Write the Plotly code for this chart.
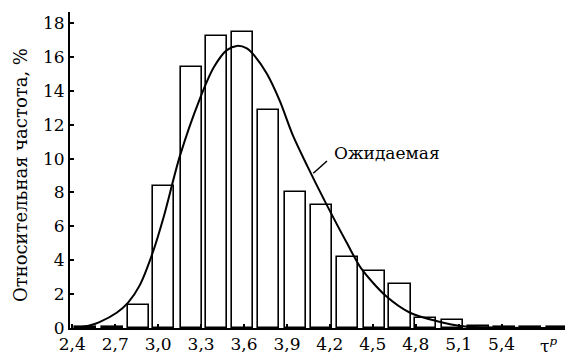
import plotly.graph_objects as go

# Histogram of the relative frequency (%) and the expected density curve
bin_centers = [2.49, 2.68, 2.86, 3.04, 3.23, 3.41, 3.59, 3.77, 3.96, 4.14,
               4.32, 4.51, 4.69, 4.87, 5.06, 5.24, 5.42, 5.60, 5.79]
frequency = [0.06, 0.06, 1.35, 8.4, 15.4, 17.25, 17.45, 12.85, 8.05, 7.25,
             4.2, 3.35, 2.6, 0.6, 0.47, 0.12, 0.05, 0.04, 0.04]

curve_x = [2.42, 2.52, 2.59, 2.71, 2.79, 2.87, 2.96, 3.04, 3.15, 3.29,
           3.39, 3.48, 3.55, 3.62, 3.67, 3.76, 3.85, 3.94, 4.04, 4.17,
           4.32, 4.42, 4.59, 4.76, 4.95, 5.13, 5.39, 5.84]
curve_y = [0.0, 0.15, 0.35, 0.9, 1.5, 2.5, 4.4, 6.6, 10.1, 13.5,
           15.4, 16.4, 16.65, 16.5, 16.1, 15.0, 13.4, 11.4, 9.6, 7.4,
           5.0, 3.5, 1.9, 0.9, 0.4, 0.1, 0.02, 0.0]

x_ticks = [2.4, 2.7, 3.0, 3.3, 3.6, 3.9, 4.2, 4.5, 4.8, 5.1, 5.4]
x_tick_text = ["2,4", "2,7", "3,0", "3,3", "3,6", "3,9", "4,2", "4,5", "4,8", "5,1", "5,4"]
y_ticks = [0, 2, 4, 6, 8, 10, 12, 14, 16, 18]

FONT = "DejaVu Serif"
SIZE = 17

fig = go.Figure()
fig.add_trace(go.Bar(
    x=bin_centers, y=frequency, width=0.147,
    marker=dict(color="white", line=dict(color="black", width=1.6)),
    showlegend=False, hoverinfo="skip",
))
fig.add_trace(go.Scatter(
    x=curve_x, y=curve_y, mode="lines",
    line=dict(color="black", width=2, shape="spline", smoothing=0.8),
    showlegend=False, hoverinfo="skip",
))

# curve label with its leader line
fig.add_annotation(x=4.213, y=10.31, text="Ожидаемая", showarrow=False,
                   xanchor="left", yanchor="middle",
                   font=dict(family=FONT, size=SIZE, color="black"))
fig.add_shape(type="line", x0=4.084, y0=9.13, x1=4.18, y1=9.86,
              line=dict(color="black", width=1.5))

# axis variable
fig.add_annotation(x=5.73, y=0, yref="y", text="τ<sup><i>p</i></sup>",
                   showarrow=False, xanchor="center", yanchor="middle", yshift=-17,
                   font=dict(family=FONT, size=SIZE, color="black"))

# y-axis title
fig.add_annotation(x=-0.101, xref="paper", y=0.484, yref="paper",
                   text="Относительная частота, %", textangle=-90,
                   showarrow=False, xanchor="center", yanchor="middle",
                   font=dict(family=FONT, size=18, color="black"))

fig.update_layout(
    width=565, height=356,
    margin=dict(l=70, r=0, t=12, b=28),
    paper_bgcolor="white", plot_bgcolor="white",
    bargap=0,
    font=dict(family=FONT, size=SIZE, color="black"),
    xaxis=dict(range=[2.384, 5.843], tickvals=x_ticks, ticktext=x_tick_text,
               showline=True, linecolor="black", linewidth=2,
               ticks="inside", ticklen=4, tickwidth=1.5, tickcolor="black",
               showgrid=False, zeroline=False, fixedrange=True,
               tickfont=dict(family=FONT, size=SIZE, color="black")),
    yaxis=dict(range=[0, 18.65], tickvals=y_ticks,
               showline=True, linecolor="black", linewidth=2,
               ticks="inside", ticklen=4, tickwidth=1.5, tickcolor="black",
               showgrid=False, zeroline=False, fixedrange=True,
               tickfont=dict(family=FONT, size=SIZE, color="black")),
)

fig.write_html("out.html")
